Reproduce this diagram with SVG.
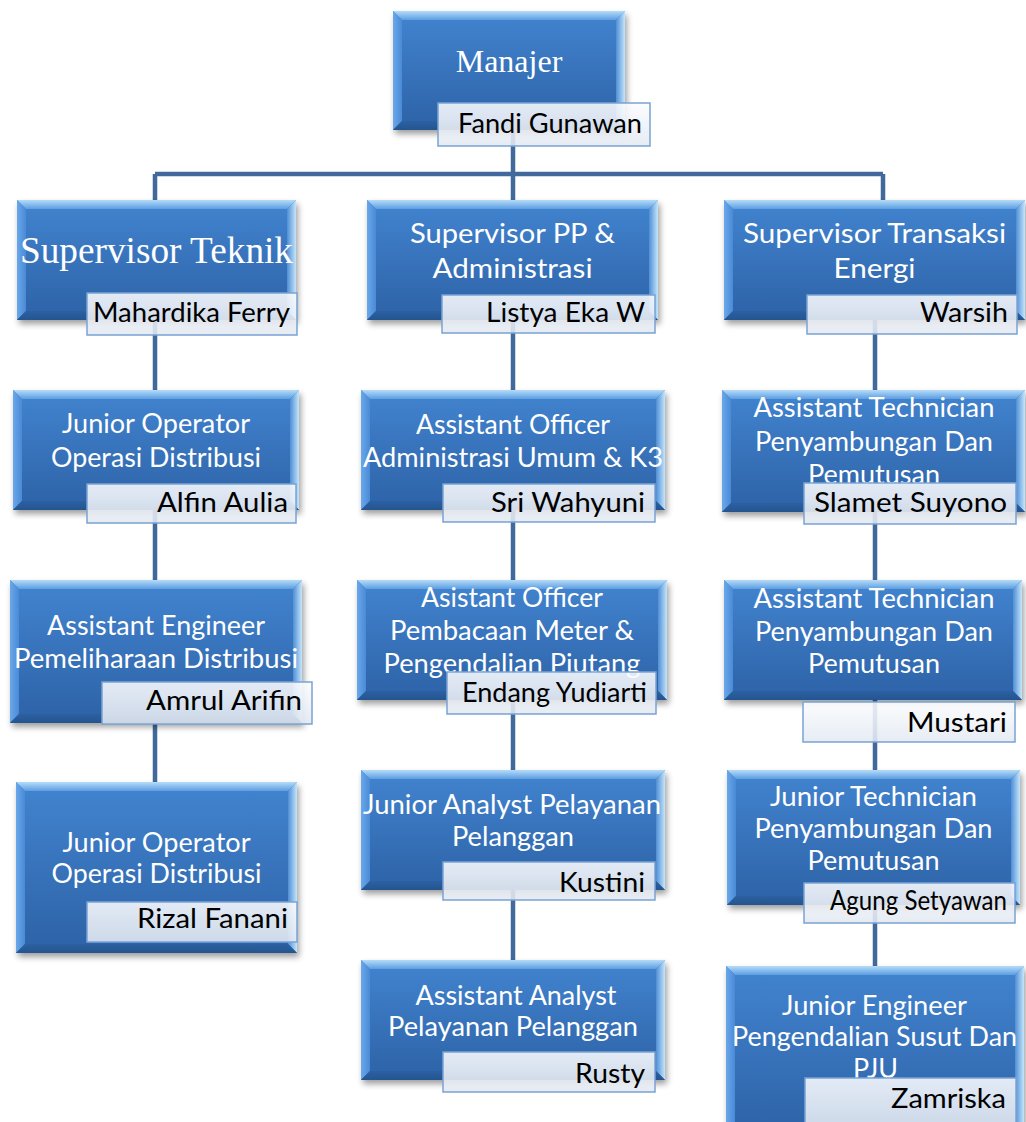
<svg xmlns="http://www.w3.org/2000/svg" width="1026" height="1122" viewBox="0 0 1026 1122">
<defs>
<linearGradient id="gFace" x1="0" y1="0" x2="0" y2="1"><stop offset="0" stop-color="#4284d0"/><stop offset="1" stop-color="#2d62a6"/></linearGradient>
<linearGradient id="gTop" x1="0" y1="0" x2="0" y2="1"><stop offset="0" stop-color="#b5dcf8"/><stop offset="1" stop-color="#5c9de2"/></linearGradient>
<linearGradient id="gLeft" x1="0" y1="0" x2="1" y2="0"><stop offset="0" stop-color="#6aa8ea"/><stop offset="1" stop-color="#4a8ad6"/></linearGradient>
<linearGradient id="gRight" x1="1" y1="0" x2="0" y2="0"><stop offset="0" stop-color="#c4e6fb"/><stop offset="1" stop-color="#4f8ed6"/></linearGradient>
<linearGradient id="gBot" x1="0" y1="1" x2="0" y2="0"><stop offset="0" stop-color="#24558f"/><stop offset="1" stop-color="#2c60a2"/></linearGradient>
<linearGradient id="gLbl" x1="0" y1="0" x2="0" y2="1"><stop offset="0" stop-color="#fbfcfe"/><stop offset="1" stop-color="#e3e9f2"/></linearGradient>
<filter id="blur" x="-10%" y="-10%" width="120%" height="130%"><feGaussianBlur stdDeviation="3"/></filter>
</defs>
<style>
.sh{fill:#000;opacity:.38;filter:url(#blur)}
.face{fill:url(#gFace)}
.bt{fill:url(#gTop)}
.bl{fill:url(#gLeft)}
.br{fill:url(#gRight)}
.bb{fill:url(#gBot)}
.lbl{fill:url(#gLbl);fill-opacity:.88;stroke:#7aa2d4;stroke-width:1.5}
.t{font-family:Lato,"Liberation Sans",sans-serif;font-size:26px;fill:#fff;text-anchor:middle}
.ts{font-family:"Liberation Serif","Times New Roman",serif;fill:#fff;text-anchor:middle}
.n{font-family:Lato,"Liberation Sans",sans-serif;font-size:26px;fill:#000;text-anchor:end}
.conn{fill:none;stroke:#41699b;stroke-width:4.5}
</style>
<rect width="1026" height="1122" fill="#fff"/>
<g id="connectors">
<path class="conn" d="M513 120V174M155 174H883M155 174V790M513 174V965M883 174V210M875 310V972"/>
</g>

<g id="n-manajer">
<rect class="sh" x="395" y="15" width="232" height="119"/>
<rect class="face" x="393" y="11" width="232" height="119"/>
<path class="bt" d="M393 11h232l-9 9h-214z"/><path class="bl" d="M393 11l9 9v101l-9 9z"/><path class="br" d="M625 11v119l-9-9v-101z"/><path class="bb" d="M393 130h232l-9-9h-214z"/>
<text class="ts" x="509" y="72" font-size="32">Manajer</text>
<rect class="lbl" x="438" y="103" width="212" height="43"/>
<text class="n" x="642" y="133" textLength="184" lengthAdjust="spacingAndGlyphs">Fandi Gunawan</text>
</g>

<g id="n-sup-teknik">
<rect class="sh" x="19" y="204" width="279" height="120"/>
<rect class="face" x="17" y="200" width="279" height="120"/>
<path class="bt" d="M17 200h279l-9 9h-261z"/><path class="bl" d="M17 200l9 9v102l-9 9z"/><path class="br" d="M296 200v120l-9-9v-102z"/><path class="bb" d="M17 320h279l-9-9h-261z"/>
<text class="ts" x="156.5" y="263" font-size="37" textLength="273" lengthAdjust="spacingAndGlyphs">Supervisor Teknik</text>
<rect class="lbl" x="87" y="293" width="210" height="42"/>
<text class="n" x="290" y="322" textLength="197" lengthAdjust="spacingAndGlyphs">Mahardika Ferry</text>
</g>

<g id="n-sup-pp">
<rect class="sh" x="369" y="204" width="291" height="120"/>
<rect class="face" x="367" y="200" width="291" height="120"/>
<path class="bt" d="M367 200h291l-9 9h-273z"/><path class="bl" d="M367 200l9 9v102l-9 9z"/><path class="br" d="M658 200v120l-9-9v-102z"/><path class="bb" d="M367 320h291l-9-9h-273z"/>
<text class="t" x="512.5" y="243" textLength="205" lengthAdjust="spacingAndGlyphs">Supervisor PP &amp;</text>
<text class="t" x="512.5" y="278" textLength="160" lengthAdjust="spacingAndGlyphs">Administrasi</text>
<rect class="lbl" x="442" y="295" width="213" height="38"/>
<text class="n" x="645" y="322" textLength="159" lengthAdjust="spacingAndGlyphs">Listya Eka W</text>
</g>

<g id="n-sup-te">
<rect class="sh" x="726" y="204" width="301" height="120"/>
<rect class="face" x="724" y="200" width="301" height="120"/>
<path class="bt" d="M724 200h301l-9 9h-283z"/><path class="bl" d="M724 200l9 9v102l-9 9z"/><path class="br" d="M1025 200v120l-9-9v-102z"/><path class="bb" d="M724 320h301l-9-9h-283z"/>
<text class="t" x="874.5" y="243" textLength="263" lengthAdjust="spacingAndGlyphs">Supervisor Transaksi</text>
<text class="t" x="874.5" y="278" textLength="82" lengthAdjust="spacingAndGlyphs">Energi</text>
<rect class="lbl" x="807" y="295" width="210" height="39"/>
<text class="n" x="1008" y="322" textLength="88" lengthAdjust="spacingAndGlyphs">Warsih</text>
</g>

<g id="n-jo-alfin">
<rect class="sh" x="15" y="394" width="286" height="120"/>
<rect class="face" x="13" y="390" width="286" height="120"/>
<path class="bt" d="M13 390h286l-9 9h-268z"/><path class="bl" d="M13 390l9 9v102l-9 9z"/><path class="br" d="M299 390v120l-9-9v-102z"/><path class="bb" d="M13 510h286l-9-9h-268z"/>
<text class="t" x="156" y="433" textLength="188" lengthAdjust="spacingAndGlyphs">Junior Operator</text>
<text class="t" x="156" y="467" textLength="210" lengthAdjust="spacingAndGlyphs">Operasi Distribusi</text>
<rect class="lbl" x="87" y="484" width="209" height="39"/>
<text class="n" x="288" y="512" textLength="131" lengthAdjust="spacingAndGlyphs">Alfin Aulia</text>
</g>

<g id="n-ao-sri">
<rect class="sh" x="363" y="394" width="304" height="120"/>
<rect class="face" x="361" y="390" width="304" height="120"/>
<path class="bt" d="M361 390h304l-9 9h-286z"/><path class="bl" d="M361 390l9 9v102l-9 9z"/><path class="br" d="M665 390v120l-9-9v-102z"/><path class="bb" d="M361 510h304l-9-9h-286z"/>
<text class="t" x="513" y="434" textLength="194" lengthAdjust="spacingAndGlyphs">Assistant Officer</text>
<text class="t" x="513" y="467" textLength="300" lengthAdjust="spacingAndGlyphs">Administrasi Umum &amp; K3</text>
<rect class="lbl" x="443" y="484" width="212" height="38"/>
<text class="n" x="645" y="512" textLength="154" lengthAdjust="spacingAndGlyphs">Sri Wahyuni</text>
</g>

<g id="n-at-slamet">
<rect class="sh" x="724" y="394" width="303" height="122"/>
<rect class="face" x="722" y="390" width="303" height="122"/>
<path class="bt" d="M722 390h303l-9 9h-285z"/><path class="bl" d="M722 390l9 9v104l-9 9z"/><path class="br" d="M1025 390v122l-9-9v-104z"/><path class="bb" d="M722 512h303l-9-9h-285z"/>
<text class="t" x="874" y="417" textLength="241" lengthAdjust="spacingAndGlyphs">Assistant Technician</text>
<text class="t" x="874" y="451" textLength="238" lengthAdjust="spacingAndGlyphs">Penyambungan Dan</text>
<text class="t" x="874" y="484" textLength="132" lengthAdjust="spacingAndGlyphs">Pemutusan</text>
<rect class="lbl" x="804" y="483" width="212" height="41"/>
<text class="n" x="1007" y="512" textLength="193" lengthAdjust="spacingAndGlyphs">Slamet Suyono</text>
</g>

<g id="n-ae-amrul">
<rect class="sh" x="12" y="584" width="292" height="143"/>
<rect class="face" x="10" y="580" width="292" height="143"/>
<path class="bt" d="M10 580h292l-9 9h-274z"/><path class="bl" d="M10 580l9 9v125l-9 9z"/><path class="br" d="M302 580v143l-9-9v-125z"/><path class="bb" d="M10 723h292l-9-9h-274z"/>
<text class="t" x="156" y="635" textLength="218" lengthAdjust="spacingAndGlyphs">Assistant Engineer</text>
<text class="t" x="156" y="668" textLength="284" lengthAdjust="spacingAndGlyphs">Pemeliharaan Distribusi</text>
<rect class="lbl" x="102" y="682" width="210" height="42"/>
<text class="n" x="302" y="710" textLength="156" lengthAdjust="spacingAndGlyphs">Amrul Arifin</text>
</g>

<g id="n-ao-endang">
<rect class="sh" x="359" y="584" width="310" height="120"/>
<rect class="face" x="357" y="580" width="310" height="120"/>
<path class="bt" d="M357 580h310l-9 9h-292z"/><path class="bl" d="M357 580l9 9v102l-9 9z"/><path class="br" d="M667 580v120l-9-9v-102z"/><path class="bb" d="M357 700h310l-9-9h-292z"/>
<text class="t" x="512" y="607" textLength="182" lengthAdjust="spacingAndGlyphs">Asistant Officer</text>
<text class="t" x="512" y="640" textLength="244" lengthAdjust="spacingAndGlyphs">Pembacaan Meter &amp;</text>
<text class="t" x="512" y="673" textLength="257" lengthAdjust="spacingAndGlyphs">Pengendalian Piutang</text>
<rect class="lbl" x="447" y="672" width="209" height="42"/>
<text class="n" x="647" y="702" font-size="24" textLength="185" lengthAdjust="spacingAndGlyphs">Endang Yudiarti</text>
</g>

<g id="n-at-mustari">
<rect class="sh" x="726" y="584" width="298" height="120"/>
<rect class="face" x="724" y="580" width="298" height="120"/>
<path class="bt" d="M724 580h298l-9 9h-280z"/><path class="bl" d="M724 580l9 9v102l-9 9z"/><path class="br" d="M1022 580v120l-9-9v-102z"/><path class="bb" d="M724 700h298l-9-9h-280z"/>
<text class="t" x="874" y="608" textLength="241" lengthAdjust="spacingAndGlyphs">Assistant Technician</text>
<text class="t" x="874" y="641" textLength="238" lengthAdjust="spacingAndGlyphs">Penyambungan Dan</text>
<text class="t" x="874" y="673" textLength="132" lengthAdjust="spacingAndGlyphs">Pemutusan</text>
<rect class="lbl" x="803" y="702" width="212" height="40"/>
<text class="n" x="1007" y="732" textLength="100" lengthAdjust="spacingAndGlyphs">Mustari</text>
</g>

<g id="n-jo-rizal">
<rect class="sh" x="18" y="786" width="281" height="171"/>
<rect class="face" x="16" y="782" width="281" height="171"/>
<path class="bt" d="M16 782h281l-9 9h-263z"/><path class="bl" d="M16 782l9 9v153l-9 9z"/><path class="br" d="M297 782v171l-9-9v-153z"/><path class="bb" d="M16 953h281l-9-9h-263z"/>
<text class="t" x="156.5" y="852" textLength="188" lengthAdjust="spacingAndGlyphs">Junior Operator</text>
<text class="t" x="156.5" y="883" textLength="210" lengthAdjust="spacingAndGlyphs">Operasi Distribusi</text>
<rect class="lbl" x="87" y="902" width="210" height="40"/>
<text class="n" x="288" y="928" textLength="151" lengthAdjust="spacingAndGlyphs">Rizal Fanani</text>
</g>

<g id="n-ja-kustini">
<rect class="sh" x="363" y="774" width="304" height="120"/>
<rect class="face" x="361" y="770" width="304" height="120"/>
<path class="bt" d="M361 770h304l-9 9h-286z"/><path class="bl" d="M361 770l9 9v102l-9 9z"/><path class="br" d="M665 770v120l-9-9v-102z"/><path class="bb" d="M361 890h304l-9-9h-286z"/>
<text class="t" x="512" y="814" textLength="298" lengthAdjust="spacingAndGlyphs">Junior Analyst Pelayanan</text>
<text class="t" x="513" y="846" textLength="122" lengthAdjust="spacingAndGlyphs">Pelanggan</text>
<rect class="lbl" x="443" y="862" width="212" height="38"/>
<text class="n" x="645" y="892" textLength="86" lengthAdjust="spacingAndGlyphs">Kustini</text>
</g>

<g id="n-jt-agung">
<rect class="sh" x="729" y="774" width="293" height="135"/>
<rect class="face" x="727" y="770" width="293" height="135"/>
<path class="bt" d="M727 770h293l-9 9h-275z"/><path class="bl" d="M727 770l9 9v117l-9 9z"/><path class="br" d="M1020 770v135l-9-9v-117z"/><path class="bb" d="M727 905h293l-9-9h-275z"/>
<text class="t" x="873.5" y="806" textLength="207" lengthAdjust="spacingAndGlyphs">Junior Technician</text>
<text class="t" x="873.5" y="838" textLength="238" lengthAdjust="spacingAndGlyphs">Penyambungan Dan</text>
<text class="t" x="873.5" y="870" textLength="132" lengthAdjust="spacingAndGlyphs">Pemutusan</text>
<rect class="lbl" x="804" y="883" width="211" height="40"/>
<text class="n" x="1007" y="910" font-size="22" textLength="177" lengthAdjust="spacingAndGlyphs">Agung Setyawan</text>
</g>

<g id="n-aa-rusty">
<rect class="sh" x="363" y="964" width="304" height="120"/>
<rect class="face" x="361" y="960" width="304" height="120"/>
<path class="bt" d="M361 960h304l-9 9h-286z"/><path class="bl" d="M361 960l9 9v102l-9 9z"/><path class="br" d="M665 960v120l-9-9v-102z"/><path class="bb" d="M361 1080h304l-9-9h-286z"/>
<text class="t" x="516" y="1005" textLength="201" lengthAdjust="spacingAndGlyphs">Assistant Analyst</text>
<text class="t" x="513" y="1036" textLength="250" lengthAdjust="spacingAndGlyphs">Pelayanan Pelanggan</text>
<rect class="lbl" x="443" y="1052" width="212" height="40"/>
<text class="n" x="645" y="1083" textLength="70" lengthAdjust="spacingAndGlyphs">Rusty</text>
</g>

<g id="n-je-zamriska">
<rect class="sh" x="728" y="970" width="298" height="170"/>
<rect class="face" x="726" y="966" width="298" height="170"/>
<path class="bt" d="M726 966h298l-9 9h-280z"/><path class="bl" d="M726 966l9 9v152l-9 9z"/><path class="br" d="M1024 966v170l-9-9v-152z"/><path class="bb" d="M726 1136h298l-9-9h-280z"/>
<text class="t" x="874.5" y="1015" textLength="185" lengthAdjust="spacingAndGlyphs">Junior Engineer</text>
<text class="t" x="874.5" y="1046" textLength="285" lengthAdjust="spacingAndGlyphs">Pengendalian Susut Dan</text>
<text class="t" x="875.5" y="1078" textLength="45" lengthAdjust="spacingAndGlyphs">PJU</text>
<rect class="lbl" x="805" y="1078" width="211" height="48"/>
<text class="n" x="1006" y="1108" textLength="115" lengthAdjust="spacingAndGlyphs">Zamriska</text>
</g>
</svg>
